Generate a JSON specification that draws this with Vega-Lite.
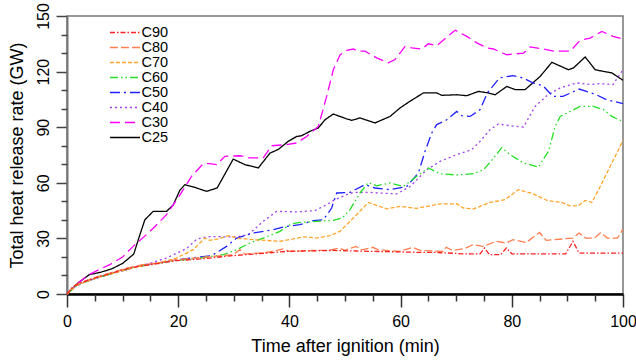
{
  "$schema": "https://vega.github.io/schema/vega-lite/v6.json",
  "width": 556,
  "height": 278,
  "autosize": "none",
  "padding": {"left": 67, "top": 16, "right": 13, "bottom": 69},
  "config": {
    "font": "Liberation Sans",
    "view": {"stroke": "#777", "strokeWidth": 1.5},
    "axis": {"grid": false, "labelFlush": false, "labelOverlap": false, "labelColor": "#000", "titleColor": "#000", "titleFontWeight": "normal", "labelFont": "Liberation Sans", "titleFont": "Liberation Sans"}
  },
  "data": {"values": [
    {"s":"C25","t":0,"v":0},{"s":"C25","t":2,"v":6},{"s":"C25","t":4,"v":10.4},{"s":"C25","t":6,"v":11.7},{"s":"C25","t":8,"v":13.5},{"s":"C25","t":10,"v":16.5},{"s":"C25","t":12,"v":21.5},{"s":"C25","t":13,"v":31},{"s":"C25","t":14,"v":40},{"s":"C25","t":15.5,"v":44.6},{"s":"C25","t":17.9,"v":44.6},{"s":"C25","t":19.1,"v":48},{"s":"C25","t":20.3,"v":56},{"s":"C25","t":21.2,"v":59},{"s":"C25","t":23,"v":57.5},{"s":"C25","t":25.1,"v":55.4},{"s":"C25","t":27,"v":57.2},{"s":"C25","t":29.9,"v":72.8},{"s":"C25","t":32,"v":69.8},{"s":"C25","t":34.4,"v":68},{"s":"C25","t":36.5,"v":76},{"s":"C25","t":38,"v":78},{"s":"C25","t":39.8,"v":82.4},{"s":"C25","t":41.3,"v":85},{"s":"C25","t":42.2,"v":85.4},{"s":"C25","t":43.7,"v":87.8},{"s":"C25","t":45.2,"v":89.6},{"s":"C25","t":46.4,"v":94},{"s":"C25","t":47.9,"v":97.1},{"s":"C25","t":50.3,"v":94.5},{"s":"C25","t":51.2,"v":93.7},{"s":"C25","t":52.7,"v":95},{"s":"C25","t":55.4,"v":92.3},{"s":"C25","t":58.1,"v":95.8},{"s":"C25","t":59.9,"v":100.4},{"s":"C25","t":61.7,"v":104},{"s":"C25","t":64.1,"v":108.5},{"s":"C25","t":66.5,"v":108.5},{"s":"C25","t":67.4,"v":107.2},{"s":"C25","t":70.1,"v":107.5},{"s":"C25","t":71.9,"v":107},{"s":"C25","t":74,"v":109.3},{"s":"C25","t":75.8,"v":108.5},{"s":"C25","t":77,"v":107.5},{"s":"C25","t":79.1,"v":112},{"s":"C25","t":80.6,"v":110.3},{"s":"C25","t":82.4,"v":110.3},{"s":"C25","t":85.1,"v":117.4},{"s":"C25","t":87.2,"v":125},{"s":"C25","t":90.2,"v":121},{"s":"C25","t":91.1,"v":122},{"s":"C25","t":93.2,"v":127.9},{"s":"C25","t":95,"v":121},{"s":"C25","t":96.5,"v":120.1},{"s":"C25","t":98,"v":119.3},{"s":"C25","t":100,"v":115.3},

    {"s":"C30","t":0,"v":0},{"s":"C30","t":2,"v":6},{"s":"C30","t":4,"v":10.5},{"s":"C30","t":6,"v":13.5},{"s":"C30","t":7.7,"v":15.8},{"s":"C30","t":10,"v":20},{"s":"C30","t":11.9,"v":25.7},{"s":"C30","t":14.6,"v":32.9},{"s":"C30","t":16,"v":37},{"s":"C30","t":17.9,"v":42.8},{"s":"C30","t":20,"v":52},{"s":"C30","t":22.4,"v":63.5},{"s":"C30","t":24.5,"v":70.3},{"s":"C30","t":25.7,"v":70.3},{"s":"C30","t":26.9,"v":69.8},{"s":"C30","t":28.4,"v":74.3},{"s":"C30","t":31.1,"v":74.6},{"s":"C30","t":32.9,"v":73.4},{"s":"C30","t":35.3,"v":73.4},{"s":"C30","t":36.8,"v":80},{"s":"C30","t":39.5,"v":80.6},{"s":"C30","t":41.3,"v":81.5},{"s":"C30","t":43.1,"v":85},{"s":"C30","t":45.2,"v":90.4},{"s":"C30","t":46.7,"v":106.6},{"s":"C30","t":47.9,"v":121},{"s":"C30","t":49.1,"v":129},{"s":"C30","t":50.3,"v":131.5},{"s":"C30","t":51.5,"v":132.2},{"s":"C30","t":52.4,"v":131},{"s":"C30","t":53.6,"v":131},{"s":"C30","t":55.7,"v":127.4},{"s":"C30","t":57.8,"v":124.7},{"s":"C30","t":59,"v":126.5},{"s":"C30","t":60.8,"v":133.6},{"s":"C30","t":62,"v":132.8},{"s":"C30","t":63.8,"v":132.2},{"s":"C30","t":65,"v":135},{"s":"C30","t":66.5,"v":134},{"s":"C30","t":69.8,"v":142.3},{"s":"C30","t":71.9,"v":139},{"s":"C30","t":73.7,"v":135.5},{"s":"C30","t":75.5,"v":132.8},{"s":"C30","t":76.7,"v":132.2},{"s":"C30","t":79.1,"v":129.1},{"s":"C30","t":82.1,"v":130},{"s":"C30","t":83.3,"v":133.3},{"s":"C30","t":85.7,"v":132.2},{"s":"C30","t":87.5,"v":131},{"s":"C30","t":90.5,"v":131},{"s":"C30","t":92.3,"v":136.9},{"s":"C30","t":94.1,"v":138.1},{"s":"C30","t":96.2,"v":141.7},{"s":"C30","t":98.2,"v":139},{"s":"C30","t":100,"v":137.6},

    {"s":"C40","t":0,"v":0},{"s":"C40","t":1.7,"v":4.5},{"s":"C40","t":3.5,"v":6.8},{"s":"C40","t":6,"v":9.2},{"s":"C40","t":8.9,"v":11.8},{"s":"C40","t":11.9,"v":14.5},{"s":"C40","t":14.9,"v":16.5},{"s":"C40","t":16.7,"v":18.3},{"s":"C40","t":18,"v":19.5},{"s":"C40","t":19.7,"v":22},{"s":"C40","t":21.5,"v":24.5},{"s":"C40","t":23.3,"v":29.5},{"s":"C40","t":24.5,"v":30.5},{"s":"C40","t":26,"v":31},{"s":"C40","t":28.7,"v":30.8},{"s":"C40","t":30.5,"v":30.8},{"s":"C40","t":32.6,"v":32},{"s":"C40","t":35.3,"v":39.2},{"s":"C40","t":37.7,"v":44.6},{"s":"C40","t":41.3,"v":44.3},{"s":"C40","t":44.6,"v":45},{"s":"C40","t":46.7,"v":48.2},{"s":"C40","t":48.2,"v":50.9},{"s":"C40","t":50.3,"v":53.6},{"s":"C40","t":51.5,"v":54.8},{"s":"C40","t":54.5,"v":54.8},{"s":"C40","t":59.3,"v":54},{"s":"C40","t":61.7,"v":58},{"s":"C40","t":64.7,"v":67},{"s":"C40","t":67.1,"v":71.6},{"s":"C40","t":70.1,"v":75.2},{"s":"C40","t":72.8,"v":77.9},{"s":"C40","t":74.3,"v":82.4},{"s":"C40","t":76.1,"v":88.7},{"s":"C40","t":77.6,"v":91.7},{"s":"C40","t":79.7,"v":90.8},{"s":"C40","t":82.1,"v":90.1},{"s":"C40","t":84.2,"v":101.2},{"s":"C40","t":86.3,"v":107},{"s":"C40","t":88.7,"v":111.2},{"s":"C40","t":91.7,"v":113.9},{"s":"C40","t":94.1,"v":113},{"s":"C40","t":95.9,"v":113.5},{"s":"C40","t":98.2,"v":113},{"s":"C40","t":100,"v":121},

    {"s":"C50","t":0,"v":0},{"s":"C50","t":1.7,"v":4.5},{"s":"C50","t":3.5,"v":6.8},{"s":"C50","t":6,"v":9.3},{"s":"C50","t":8.9,"v":11.6},{"s":"C50","t":11.9,"v":14.2},{"s":"C50","t":14.9,"v":16},{"s":"C50","t":17.9,"v":17.5},{"s":"C50","t":20,"v":18.5},{"s":"C50","t":23.9,"v":20},{"s":"C50","t":26,"v":20.7},{"s":"C50","t":28.7,"v":25.7},{"s":"C50","t":30.5,"v":30.2},{"s":"C50","t":33.5,"v":32.9},{"s":"C50","t":37.1,"v":34.7},{"s":"C50","t":39.5,"v":36.5},{"s":"C50","t":41.9,"v":37.4},{"s":"C50","t":44.3,"v":39.6},{"s":"C50","t":46.1,"v":40},{"s":"C50","t":47.6,"v":46.4},{"s":"C50","t":48.5,"v":54.5},{"s":"C50","t":50.9,"v":54.8},{"s":"C50","t":53.6,"v":59},{"s":"C50","t":55.4,"v":57.2},{"s":"C50","t":58.1,"v":56.3},{"s":"C50","t":61.1,"v":58},{"s":"C50","t":63.2,"v":65.3},{"s":"C50","t":64.4,"v":77},{"s":"C50","t":65.6,"v":86.9},{"s":"C50","t":66.5,"v":91.4},{"s":"C50","t":68.3,"v":94},{"s":"C50","t":70.1,"v":98.5},{"s":"C50","t":71,"v":96.2},{"s":"C50","t":72.5,"v":95.8},{"s":"C50","t":74.3,"v":99.5},{"s":"C50","t":75.6,"v":108.5},{"s":"C50","t":77.8,"v":116.6},{"s":"C50","t":80.2,"v":117.8},{"s":"C50","t":82,"v":116.6},{"s":"C50","t":83.8,"v":113.9},{"s":"C50","t":85.6,"v":112.4},{"s":"C50","t":87.4,"v":106.6},{"s":"C50","t":89.2,"v":106.6},{"s":"C50","t":92.1,"v":110.6},{"s":"C50","t":95.2,"v":107.5},{"s":"C50","t":97,"v":104.9},{"s":"C50","t":100,"v":102.7},

    {"s":"C60","t":0,"v":0},{"s":"C60","t":1.7,"v":4.5},{"s":"C60","t":3.5,"v":6.8},{"s":"C60","t":6,"v":9.3},{"s":"C60","t":8.9,"v":11.7},{"s":"C60","t":11.9,"v":14.3},{"s":"C60","t":14.9,"v":16},{"s":"C60","t":17.9,"v":17.3},{"s":"C60","t":20,"v":18.2},{"s":"C60","t":23.9,"v":19.4},{"s":"C60","t":28.1,"v":21.2},{"s":"C60","t":30.5,"v":23.9},{"s":"C60","t":32.9,"v":27.5},{"s":"C60","t":35.9,"v":30.8},{"s":"C60","t":38.3,"v":33.8},{"s":"C60","t":40.4,"v":37.9},{"s":"C60","t":41.9,"v":38.6},{"s":"C60","t":44.9,"v":39.2},{"s":"C60","t":47.9,"v":39.7},{"s":"C60","t":49.5,"v":41},{"s":"C60","t":50.9,"v":45.5},{"s":"C60","t":52.7,"v":54.5},{"s":"C60","t":54.2,"v":60.2},{"s":"C60","t":55.7,"v":58.4},{"s":"C60","t":58.1,"v":59.9},{"s":"C60","t":60.5,"v":58},{"s":"C60","t":62.9,"v":63.5},{"s":"C60","t":65,"v":68},{"s":"C60","t":67.1,"v":64.9},{"s":"C60","t":70.1,"v":64.2},{"s":"C60","t":73.1,"v":64.9},{"s":"C60","t":74.9,"v":67},{"s":"C60","t":76.1,"v":71},{"s":"C60","t":78.2,"v":79},{"s":"C60","t":79.7,"v":75.2},{"s":"C60","t":82.1,"v":70.7},{"s":"C60","t":84.8,"v":68.5},{"s":"C60","t":86,"v":74.3},{"s":"C60","t":86.6,"v":77},{"s":"C60","t":87.8,"v":90.4},{"s":"C60","t":88.7,"v":95.8},{"s":"C60","t":90.5,"v":98.5},{"s":"C60","t":92.3,"v":101.2},{"s":"C60","t":94.7,"v":101.2},{"s":"C60","t":96.5,"v":99.5},{"s":"C60","t":98,"v":95.8},{"s":"C60","t":100,"v":93.1},

    {"s":"C70","t":0,"v":0},{"s":"C70","t":1.7,"v":4.5},{"s":"C70","t":3.5,"v":6.8},{"s":"C70","t":6,"v":9.2},{"s":"C70","t":8.9,"v":11.6},{"s":"C70","t":11.9,"v":14.2},{"s":"C70","t":14.9,"v":16},{"s":"C70","t":16.7,"v":16.9},{"s":"C70","t":19.7,"v":19.4},{"s":"C70","t":22.7,"v":23.9},{"s":"C70","t":24.8,"v":30.2},{"s":"C70","t":25.7,"v":28.9},{"s":"C70","t":27.2,"v":29.7},{"s":"C70","t":29,"v":31.5},{"s":"C70","t":30.5,"v":30.2},{"s":"C70","t":33.5,"v":29.3},{"s":"C70","t":35.9,"v":28.9},{"s":"C70","t":38.3,"v":28.4},{"s":"C70","t":40.7,"v":29.7},{"s":"C70","t":42.5,"v":30.8},{"s":"C70","t":44.9,"v":30.2},{"s":"C70","t":47.3,"v":31.5},{"s":"C70","t":49.1,"v":33.8},{"s":"C70","t":51.5,"v":41},{"s":"C70","t":54.2,"v":49.4},{"s":"C70","t":57.5,"v":45.9},{"s":"C70","t":59.9,"v":47.3},{"s":"C70","t":62.9,"v":46.2},{"s":"C70","t":67.1,"v":48.6},{"s":"C70","t":70.1,"v":48.7},{"s":"C70","t":71.3,"v":46.4},{"s":"C70","t":73.1,"v":45.9},{"s":"C70","t":76.1,"v":49.4},{"s":"C70","t":78.8,"v":50.9},{"s":"C70","t":81.2,"v":56.3},{"s":"C70","t":83.8,"v":54.1},{"s":"C70","t":86.3,"v":50.5},{"s":"C70","t":89,"v":49.4},{"s":"C70","t":90.5,"v":47.6},{"s":"C70","t":92,"v":47.6},{"s":"C70","t":93.2,"v":50.5},{"s":"C70","t":94.4,"v":49.4},{"s":"C70","t":95.9,"v":58},{"s":"C70","t":97.7,"v":68.9},{"s":"C70","t":99.2,"v":77.9},{"s":"C70","t":100,"v":83},

    {"s":"C80","t":0,"v":0},{"s":"C80","t":1.1,"v":4.1},{"s":"C80","t":2.3,"v":5.9},{"s":"C80","t":4.7,"v":8.6},{"s":"C80","t":7.7,"v":11.3},{"s":"C80","t":10.7,"v":14},{"s":"C80","t":13.7,"v":15.8},{"s":"C80","t":16.7,"v":17},{"s":"C80","t":19.7,"v":18.5},{"s":"C80","t":22.7,"v":19.4},{"s":"C80","t":25.1,"v":20},{"s":"C80","t":29.9,"v":21.2},{"s":"C80","t":31.1,"v":23.9},{"s":"C80","t":32,"v":21.5},{"s":"C80","t":35.9,"v":22.4},{"s":"C80","t":38.9,"v":24.3},{"s":"C80","t":40,"v":23},{"s":"C80","t":44.8,"v":23.5},{"s":"C80","t":47,"v":23.5},{"s":"C80","t":49,"v":24.8},{"s":"C80","t":50,"v":23.6},{"s":"C80","t":52,"v":25.7},{"s":"C80","t":53,"v":23.8},{"s":"C80","t":55,"v":25.2},{"s":"C80","t":56,"v":23.8},{"s":"C80","t":59.8,"v":23},{"s":"C80","t":62.2,"v":25.2},{"s":"C80","t":63.5,"v":23.5},{"s":"C80","t":67.6,"v":23},{"s":"C80","t":68.2,"v":25.2},{"s":"C80","t":69.4,"v":23.5},{"s":"C80","t":71.5,"v":24.5},{"s":"C80","t":73,"v":26.6},{"s":"C80","t":74.8,"v":25.7},{"s":"C80","t":77.2,"v":28.4},{"s":"C80","t":79,"v":27.5},{"s":"C80","t":80.2,"v":29.3},{"s":"C80","t":82.6,"v":27.8},{"s":"C80","t":85,"v":33.2},{"s":"C80","t":86.2,"v":28.9},{"s":"C80","t":91,"v":30.2},{"s":"C80","t":92.1,"v":32.9},{"s":"C80","t":93.3,"v":30.2},{"s":"C80","t":94.9,"v":30.2},{"s":"C80","t":96,"v":33.2},{"s":"C80","t":97.2,"v":30.2},{"s":"C80","t":99,"v":30.2},{"s":"C80","t":100,"v":35},

    {"s":"C90","t":0,"v":0},{"s":"C90","t":1.1,"v":4},{"s":"C90","t":2.3,"v":5.8},{"s":"C90","t":4.7,"v":8.4},{"s":"C90","t":7.7,"v":11},{"s":"C90","t":10.7,"v":13.6},{"s":"C90","t":13.7,"v":15.3},{"s":"C90","t":16.7,"v":16.6},{"s":"C90","t":19.7,"v":18},{"s":"C90","t":23.9,"v":18.9},{"s":"C90","t":29.9,"v":20.7},{"s":"C90","t":35.9,"v":22.1},{"s":"C90","t":39.5,"v":23},{"s":"C90","t":41.9,"v":23.2},{"s":"C90","t":47.9,"v":23.5},{"s":"C90","t":52,"v":23.2},{"s":"C90","t":55,"v":23},{"s":"C90","t":60,"v":22.7},{"s":"C90","t":62.8,"v":22.5},{"s":"C90","t":66,"v":22.5},{"s":"C90","t":71.2,"v":21.7},{"s":"C90","t":74.3,"v":21.7},{"s":"C90","t":75.1,"v":24.8},{"s":"C90","t":76,"v":21.2},{"s":"C90","t":78,"v":21.2},{"s":"C90","t":79,"v":24.8},{"s":"C90","t":80,"v":21.7},{"s":"C90","t":89.7,"v":21.7},{"s":"C90","t":91,"v":28.4},{"s":"C90","t":92.1,"v":22.1},{"s":"C90","t":100,"v":22.1}
  ]},
  "layer": [
    {
      "mark": {"type": "line", "strokeWidth": 1.3},
      "encoding": {
        "x": {"field": "t", "type": "quantitative", "scale": {"domain": [0, 100], "nice": false, "zero": false},
          "axis": {"orient": "bottom", "values": [0, 20, 40, 60, 80, 100], "tickSize": 13, "tickWidth": 1.5, "tickColor": "#333", "domainColor": "#000", "domainWidth": 2.5, "labelFontSize": 16, "labelPadding": 6, "title": "Time after ignition (min)", "titleFontSize": 18, "titlePadding": 8}},
        "y": {"field": "v", "type": "quantitative", "scale": {"domain": [0, 150], "nice": false},
          "axis": {"orient": "left", "values": [0, 30, 60, 90, 120, 150], "tickSize": 11, "tickWidth": 1.5, "tickColor": "#444", "domainColor": "#777", "domainWidth": 2, "labelFontSize": 16, "labelAngle": -90, "labelAlign": "center", "labelBaseline": "alphabetic", "labelPadding": 8, "title": "Total heat release rate (GW)", "titleFontSize": 18, "titlePadding": 9}},
        "color": {"field": "s", "type": "nominal", "title": null,
          "scale": {"domain": ["C90", "C80", "C70", "C60", "C50", "C40", "C30", "C25"], "range": ["#FF2020", "#FF7F50", "#FFA52A", "#22E022", "#2020FF", "#A040F0", "#FF00FF", "#000000"]},
          "legend": {"orient": "none", "legendX": 58, "legendY": 8.5, "symbolType": "M-3.29,0H1", "symbolSize": 196, "symbolStrokeWidth": 1.5, "labelFontSize": 14.5, "labelFont": "Liberation Sans", "labelColor": "#000", "labelOffset": 0.5, "rowPadding": -2, "padding": 0}},
        "strokeDash": {"field": "s", "type": "nominal", "title": null,
          "scale": {"domain": ["C90", "C80", "C70", "C60", "C50", "C40", "C30", "C25"], "range": [[5, 2, 1.5, 2], [8, 3], [4, 2], [8, 3, 1.5, 3, 1.5, 3], [10, 4, 2, 4], [2, 3], [10, 5], [1, 0]]}}
      }
    },
    {
      "mark": {"type": "point", "opacity": 0},
      "encoding": {
        "x": {"field": "t", "type": "quantitative",
          "axis": {"orient": "bottom", "values": [5, 10, 15, 25, 30, 35, 45, 50, 55, 65, 70, 75, 85, 90, 95], "tickSize": 7, "tickWidth": 1.5, "tickColor": "#333", "labels": false, "domain": false, "title": null}},
        "y": {"field": "v", "type": "quantitative",
          "axis": {"orient": "left", "values": [10, 20, 40, 50, 70, 80, 100, 110, 130, 140], "tickSize": 6, "tickWidth": 1.5, "tickColor": "#444", "labels": false, "domain": false, "title": null}}
      }
    }
  ],
  "resolve": {"axis": {"x": "independent", "y": "independent"}}
}
